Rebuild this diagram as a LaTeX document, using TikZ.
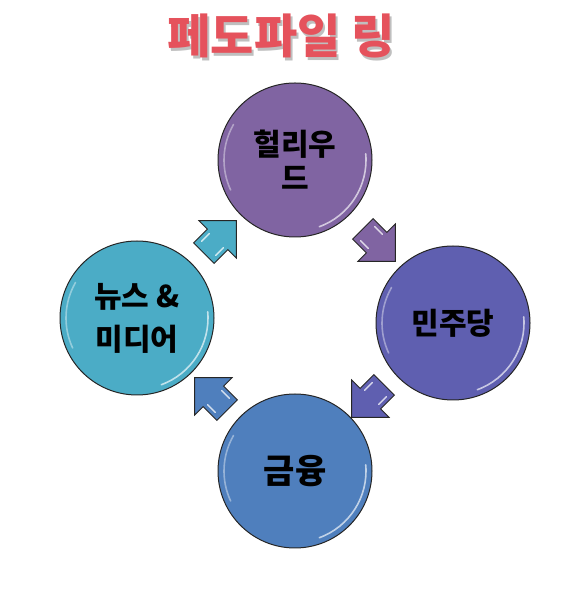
\documentclass[tikz,border=0pt]{standalone}
\usepackage{fontspec}
\newfontfamily\kr{Noto Sans CJK KR}
\usetikzlibrary{shapes.arrows}
\definecolor{cpurple}{HTML}{8064A2}
\definecolor{cindigo}{HTML}{5F5FB0}
\definecolor{cblue}{HTML}{4F7FBD}
\definecolor{caqua}{HTML}{4BACC6}
\definecolor{titlered}{HTML}{E5525C}
\begin{document}
\begin{tikzpicture}[x=1pt,y=1pt,
  ball/.style={circle, draw=black!85, line width=1pt, minimum size=154pt, inner sep=0pt,
    font=\kr\bfseries\fontsize{30}{34}\selectfont, align=center, text=black},
  blockarrow/.style={single arrow, draw=black!85, line width=0.9pt, minimum height=46pt,
    inner xsep=0pt, inner ysep=14pt, single arrow head extend=12pt, single arrow head indent=0pt},
  gloss/.style={white, opacity=0.65, line width=1.6pt, line cap=round},
  agloss/.style={white, opacity=0.75, line width=1.4pt, line cap=round}]
\useasboundingbox (0,0) rectangle (569,602);
% title
\node[font=\kr\bfseries\fontsize{47}{52}\selectfont, text=black!25] (titleshadow) at (283,563) {페도파일 링};
\node[font=\kr\bfseries\fontsize{47}{52}\selectfont, text=titlered] (title) at (281,566) {페도파일 링};
% circles
\node[ball, fill=cpurple] (holly) at (295,442) {헐리우\\드};
\node[ball, fill=cindigo] (demo) at (453,279) {민주당};
\node[ball, fill=cblue, font=\kr\bfseries\fontsize{34}{38}\selectfont] (fin) at (295,131) {금융};
\node[ball, fill=caqua] (news) at (137,284) {뉴스 \&\\[9pt]미디어};
% gloss highlights
\foreach \c in {holly,demo,fin,news}{
  \draw[gloss] (\c.center) ++(-70:71) arc[start angle=-70, end angle=5, radius=71];
  \draw[gloss, opacity=0.4] (\c.center) ++(150:71) arc[start angle=150, end angle=205, radius=71];
}
% arrows
\node[blockarrow, fill=caqua, rotate=45] (a1) at (215,360) {};
\node[blockarrow, fill=cpurple, rotate=-45] (a2) at (374,362) {};
\node[blockarrow, fill=cindigo, rotate=-135] (a3) at (373,206) {};
\node[blockarrow, fill=cblue, rotate=135] (a4) at (216,203) {};
\foreach \a/\r in {a1/45,a2/-45,a3/-135,a4/135}{
  \begin{scope}[shift={(\a.center)}, rotate=\r]
    \draw[agloss] (-9,10) -- (2,10);
    \draw[agloss] (-9,-10) -- (2,-10);
  \end{scope}
}
\end{tikzpicture}
\end{document}
